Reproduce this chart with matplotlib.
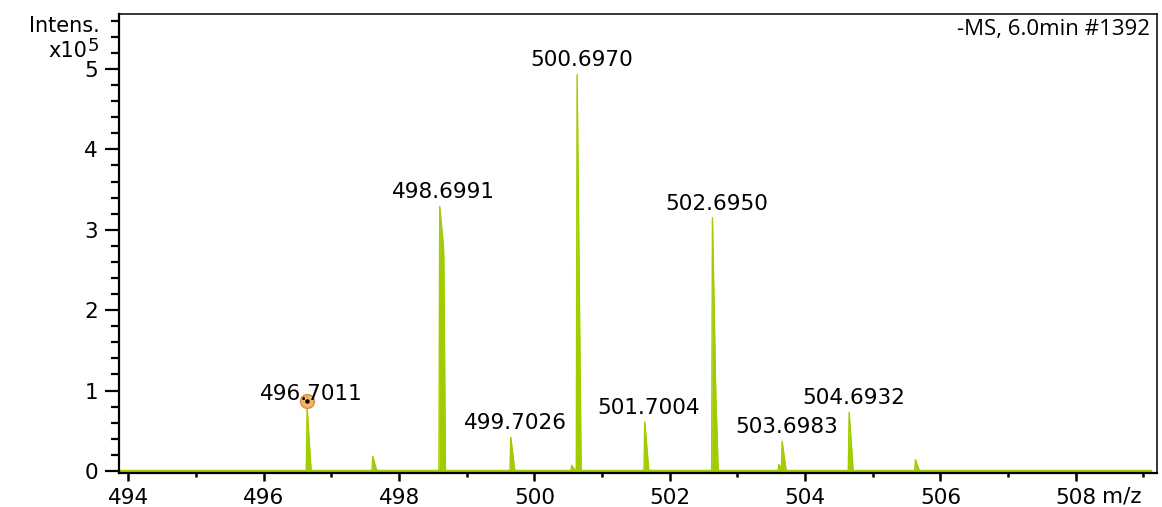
import numpy as np
import matplotlib.pyplot as plt
from matplotlib.ticker import MultipleLocator

# peak positions / heights (x10^5)
peak_mz = [496.64, 497.61, 498.60, 499.65, 500.55, 500.63, 501.63, 502.63, 503.61, 503.66, 504.65, 505.63]
peak_int = [0.78, 0.18, 3.29, 0.42, 0.07, 4.93, 0.61, 3.15, 0.08, 0.37, 0.73, 0.14]
# right-hand shoulder height (0 = plain spike)
shoulder = [0, 0, 2.79, 0, 0, 0, 0, 0.72, 0, 0, 0, 0]

label_mz = [496.64, 498.60, 499.65, 500.63, 501.63, 502.63, 503.66, 504.65]
label_int = [0.78, 3.29, 0.42, 4.93, 0.61, 3.15, 0.37, 0.73]
label_txt = ["496.7011", "498.6991", "499.7026", "500.6970",
             "501.7004", "502.6950", "503.6983", "504.6932"]

marked_mz = 496.64
marked_int = 0.87

green = '#a0cc00'

# build the profile trace from the centroid list
xs = [493.86]
ys = [0.0]
for mz, h, s in zip(peak_mz, peak_int, shoulder):
    xs += [mz - 0.012, mz]
    ys += [0.0, h]
    if s > 0:
        xs += [mz + 0.055, mz + 0.06, mz + 0.085]
        ys += [s, s * 0.95, 0.0]
    else:
        xs += [mz + 0.06]
        ys += [0.0]
xs.append(509.1)
ys.append(0.0)

fig = plt.figure(figsize=(11.62, 5.07), dpi=100)
ax = fig.add_axes([0.1024, 0.0671, 0.8933, 0.9053])

ax.fill_between(xs, 0, ys, color=green, lw=0)
ax.plot(xs, ys, color=green, lw=1.0)
ax.plot([493.86, 509.1], [0, 0], color=green, lw=2.5)

for mz, h, t in zip(label_mz, label_int, label_txt):
    ax.annotate(t, (mz, h), xytext=(3, 3), textcoords='offset points',
                ha='center', va='bottom', fontsize=15.5, color='black')

ax.plot(marked_mz, marked_int, 'o', ms=10, mfc='#f4b36a', mec='#cf8f45', mew=1)
ax.plot(marked_mz, marked_int, 'o', ms=2.2, color='black')

ax.set_xlim(493.86, 509.2)
ax.set_ylim(-0.025, 5.684)
ax.xaxis.set_major_locator(MultipleLocator(2))
ax.xaxis.set_minor_locator(MultipleLocator(1))
ax.yaxis.set_major_locator(MultipleLocator(1))
ax.yaxis.set_minor_locator(MultipleLocator(0.2))

ax.tick_params(axis='x', which='major', length=6, width=1.8, pad=5, labelsize=15.5)
ax.tick_params(axis='x', which='minor', length=3, width=1.8)
ax.tick_params(axis='y', which='major', length=10, width=1.6, pad=5, labelsize=15.5)
ax.tick_params(axis='y', which='minor', length=5.5, width=1.6)

for side in ['left', 'bottom']:
    ax.spines[side].set_linewidth(1.6)
for side in ['top', 'right']:
    ax.spines[side].set_linewidth(1.1)

fig.text(100 / 1162, 1 - 32 / 507, "Intens.", ha='right', va='baseline', fontsize=15)
fig.text(87 / 1162, 1 - 57 / 507, "x10", ha='right', va='baseline', fontsize=15)
fig.text(88 / 1162, 1 - 51 / 507, "5", ha='left', va='baseline', fontsize=13)
fig.text(1102 / 1162, 1 - 502 / 507, "m/z", ha='left', va='baseline', fontsize=15.5)
ax.text(0.993, 0.954, "-MS, 6.0min #1392", transform=ax.transAxes,
        ha='right', va='baseline', fontsize=16, family='Open Sans')

fig.savefig('out.png', dpi=100)
